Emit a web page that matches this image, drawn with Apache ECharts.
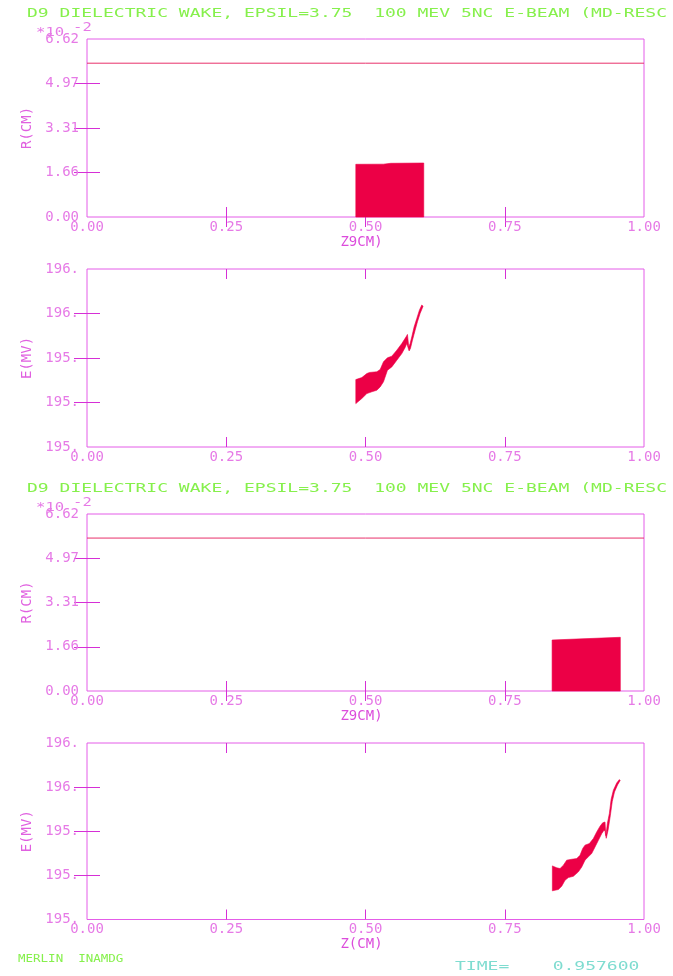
<!DOCTYPE html>
<html>
<head>
<meta charset="utf-8">
<script src="https://cdn.jsdelivr.net/npm/echarts@6/dist/echarts.min.js"></script>
<style>
  html, body { margin: 0; padding: 0; background: #fff; }
  #chart { width: 673px; height: 976px; }
</style>
</head>
<body>
<div id="chart"></div>
<script>
// ---- data ----
var titleText = 'D9 DIELECTRIC WAKE, EPSIL=3.75  100 MEV 5NC E-BEAM (MD-RESC';
var timeText = 'TIME=    0.957600';
var footText = 'MERLIN  INAMDG';

var zTicks = [0, 0.25, 0.5, 0.75, 1];
var rTickLabels = ['0.00', '1.66', '3.31', '4.97', '6.62']; // *10^-2 cm
var rInnerTicks = [1.655, 3.31, 4.965];
var eRange = [195.0, 195.8];
var eInnerTicks = [195.2, 195.4, 195.6];
var wallR = 5.72; // wall radius, *10^-2 cm

// frame 1 (upper pair): beam r-z outline
var rBeamZ1 = [0.4826, 0.4826, 0.5322, 0.5453, 0.6046, 0.6046];
var rBeamR1 = [0, 1.96, 1.965, 1.997, 2.008, 0];
// frame 1: energy-z outline
var eBeamZ1 = [0.4826, 0.4826, 0.4934, 0.5024, 0.5072, 0.5203, 0.5263, 0.5323, 0.5394, 0.5472, 0.5562,
  0.5652, 0.5729, 0.5753, 0.5777, 0.5801, 0.5831, 0.5873, 0.5921, 0.5968, 0.6010, 0.6034, 0.5980,
  0.5933, 0.5891, 0.5843, 0.5807, 0.5783, 0.5741, 0.5711, 0.5652, 0.5562, 0.5472, 0.5394, 0.5323,
  0.5263, 0.5203, 0.5113, 0.5024, 0.4934];
var eBeamE1 = [195.195, 195.303, 195.312, 195.330, 195.335, 195.338, 195.348, 195.383, 195.401, 195.408, 195.435,
  195.465, 195.495, 195.506, 195.450, 195.465, 195.495, 195.540, 195.578, 195.615, 195.638, 195.633, 195.600,
  195.563, 195.525, 195.480, 195.443, 195.432, 195.465, 195.447, 195.420, 195.390, 195.360, 195.345, 195.293,
  195.270, 195.255, 195.248, 195.240, 195.218];

// frame 2 (lower pair)
var rBeamZ2 = [0.835, 0.835, 0.8672, 0.9575, 0.9575];
var rBeamR2 = [0, 1.907, 1.934, 2.008, 0];
var eBeamZ2 = [0.8355, 0.8355, 0.8434, 0.8493, 0.8553, 0.8612, 0.8702, 0.8792, 0.8851, 0.8900, 0.8941,
  0.9019, 0.9091, 0.9151, 0.9211, 0.9258, 0.9300, 0.9316, 0.9342, 0.9378, 0.9410, 0.9450, 0.9510,
  0.9558, 0.9572, 0.9525, 0.9470, 0.9430, 0.9395, 0.9355, 0.9322, 0.9300, 0.9282, 0.9240, 0.9181,
  0.9121, 0.9061, 0.9001, 0.8941, 0.8882, 0.8822, 0.8732, 0.8642, 0.8582, 0.8523, 0.8463];
var eBeamE2 = [195.130, 195.243, 195.234, 195.231, 195.246, 195.269, 195.273, 195.276, 195.291, 195.322, 195.337,
  195.344, 195.367, 195.397, 195.423, 195.438, 195.442, 195.380, 195.435, 195.480, 195.545, 195.586, 195.619,
  195.634, 195.630, 195.610, 195.578, 195.535, 195.470, 195.405, 195.368, 195.400, 195.405, 195.389, 195.359,
  195.329, 195.299, 195.284, 195.269, 195.238, 195.216, 195.196, 195.190, 195.178, 195.151, 195.136];

// ---- styling ----
var FRAME = '#e45ce8';
var TICK = '#d62fd6';
var LABEL = '#e67ae6';
var NAME = '#dc4cdc';
var BEAM = '#ec0046';
var WALL = '#e8306a';
var GREEN = '#86f04c';
var CYAN = '#7fdcd0';
var MONO = '"DejaVu Sans Mono", "Liberation Mono", monospace';

var grids = [
  { left: 87, width: 557, top: 39, height: 178 },
  { left: 87, width: 557, top: 269, height: 178 },
  { left: 87, width: 557, top: 514, height: 177 },
  { left: 87, width: 557, top: 743, height: 176.5 }
];
grids.forEach(function (g) {
  g.show = true;
  g.borderColor = FRAME;
  g.borderWidth = 1;
  g.backgroundColor = 'transparent';
});

var xNames = ['Z9CM)', '', 'Z9CM)', 'Z(CM)'];
var yNames = ['R(CM)', 'E(MV)', 'R(CM)', 'E(MV)'];
var zInnerTicks = zTicks.slice(1, -1);

var xAxes = [], yAxes = [];
grids.forEach(function (g, i) {
  xAxes.push({
    type: 'value', gridIndex: i, min: zTicks[0], max: zTicks[zTicks.length - 1], interval: 0.25,
    axisLine: { show: false }, splitLine: { show: false },
    axisTick: { inside: true, length: 10, customValues: zInnerTicks, lineStyle: { color: TICK } },
    axisLabel: { margin: 3, color: LABEL, fontFamily: MONO, fontSize: 14,
      formatter: function (v) { return v.toFixed(2); } },
    name: xNames[i], nameLocation: 'middle', nameGap: 15,
    nameTextStyle: { color: NAME, fontFamily: MONO, fontSize: 14, padding: [0, 8, 0, 0] }
  });
  xAxes.push({
    type: 'value', gridIndex: i, position: 'top', min: 0, max: 1, interval: 0.25,
    axisLine: { show: false }, splitLine: { show: false }, axisLabel: { show: false },
    axisTick: { inside: true, length: 10, customValues: zInnerTicks, lineStyle: { color: TICK } }
  });
  var isR = (i % 2 === 0);
  var inner = isR ? rInnerTicks : eInnerTicks;
  yAxes.push({
    type: 'value', gridIndex: i,
    min: isR ? 0 : eRange[0], max: isR ? 6.62 : eRange[1], interval: isR ? 1.655 : 0.2,
    axisLine: { show: false }, splitLine: { show: false },
    axisTick: { inside: true, length: 13, customValues: inner, lineStyle: { color: TICK } },
    axisLabel: { margin: 8, color: LABEL, fontFamily: MONO, fontSize: 14,
      formatter: isR ? function (v, idx) { return rTickLabels[idx]; }
                     : function (v) { return Math.round(v) + '.'; } },
    name: yNames[i], nameLocation: 'middle', nameGap: 50,
    nameTextStyle: { color: '#e060e0', fontFamily: MONO, fontSize: 14 }
  });
  yAxes.push({
    type: 'value', gridIndex: i, position: 'right',
    min: isR ? 0 : eRange[0], max: isR ? 6.62 : eRange[1], interval: isR ? 1.655 : 0.2,
    axisLine: { show: false }, splitLine: { show: false }, axisLabel: { show: false },
    axisTick: { inside: true, length: 13, customValues: inner, lineStyle: { color: TICK } }
  });
});

function outline(zs, vs) {
  return zs.map(function (z, k) { return [z, vs[k]]; });
}

function polygonSeries(grid, zs, vs) {
  var pts = outline(zs, vs);
  return {
    type: 'custom', xAxisIndex: grid * 2, yAxisIndex: grid * 2, silent: true,
    data: pts,
    renderItem: function (params, api) {
      if (params.dataIndex !== 0) return;
      return {
        type: 'polygon',
        shape: { points: pts.map(function (p) { return api.coord(p); }) },
        style: { fill: BEAM, stroke: BEAM, lineWidth: 0.6 }
      };
    }
  };
}

function wallSeries(grid) {
  return {
    type: 'line', xAxisIndex: grid * 2, yAxisIndex: grid * 2, silent: true,
    symbol: 'none', data: [[0, wallR], [1, wallR]],
    lineStyle: { color: WALL, width: 1 }
  };
}

function textEl(str, x, y, size, sx, color) {
  return {
    type: 'text', x: x, y: y, scaleX: sx, silent: true,
    style: { text: str, fill: color, font: size + 'px ' + MONO, verticalAlign: 'middle' }
  };
}

var option = {
  animation: false,
  backgroundColor: '#fff',
  grid: grids,
  xAxis: xAxes,
  yAxis: yAxes,
  series: [
    wallSeries(0),
    polygonSeries(0, rBeamZ1, rBeamR1),
    polygonSeries(1, eBeamZ1, eBeamE1),
    wallSeries(2),
    polygonSeries(2, rBeamZ2, rBeamR2),
    polygonSeries(3, eBeamZ2, eBeamE2)
  ],
  graphic: [
    textEl(titleText, 27, 14, 13, 1.386, GREEN),
    textEl(titleText, 27, 488.5, 13, 1.386, GREEN),
    textEl('*10', 36, 33, 13, 1.2, LABEL),
    textEl('-2', 73, 28, 13, 1.2, LABEL),
    textEl('*10', 36, 507.5, 13, 1.2, LABEL),
    textEl('-2', 73, 502.5, 13, 1.2, LABEL),
    textEl(footText, 18, 959, 10, 1.25, GREEN),
    textEl(timeText, 455, 967, 13, 1.386, CYAN)
  ]
};

var chart = echarts.init(document.getElementById('chart'), null, { renderer: 'canvas' });
chart.setOption(option);
</script>
</body>
</html>
